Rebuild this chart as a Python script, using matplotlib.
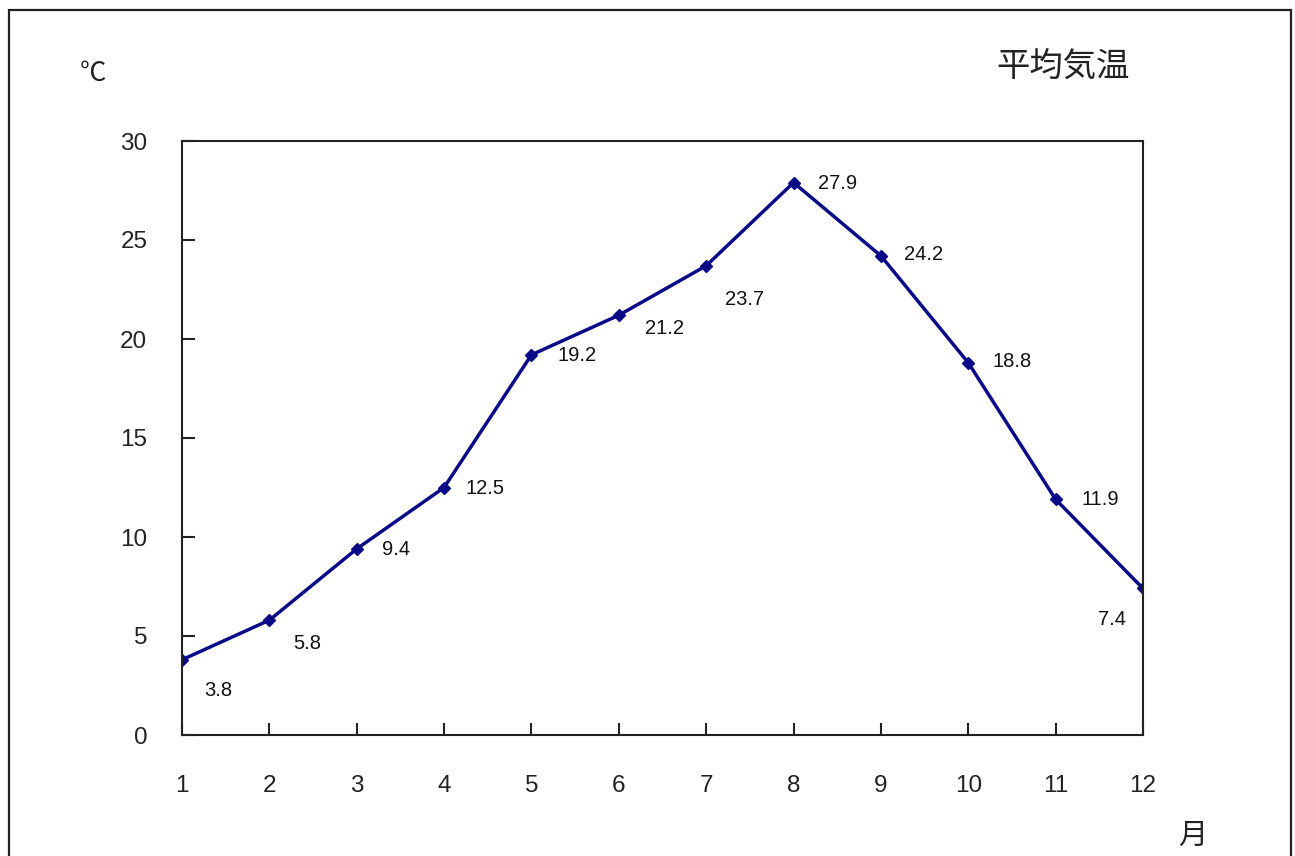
import matplotlib
matplotlib.use("Agg")
import matplotlib.pyplot as plt
from matplotlib.patches import Rectangle

months = [1, 2, 3, 4, 5, 6, 7, 8, 9, 10, 11, 12]
temps = [3.8, 5.8, 9.4, 12.5, 19.2, 21.2, 23.7, 27.9, 24.2, 18.8, 11.9, 7.4]
y_ticks = [0, 5, 10, 15, 20, 25, 30]

# label offsets in pixels (dx, dy), picked by eye from the original
label_offsets = [(36, -31), (38, -23), (39, -1), (41, -1), (46, -1), (46, -13),
                 (38, -34), (44, -1), (43, 1), (44, 1), (45, 0), (-31, -31)]

JP = ["Noto Sans CJK JP", "DejaVu Sans"]
NUM = ["Liberation Sans", "DejaVu Sans"]
NARROW = ["Liberation Sans Narrow", "Liberation Sans", "DejaVu Sans"]

fig = plt.figure(figsize=(12.95, 8.56), dpi=100)
ax = fig.add_axes([182 / 1295, 121 / 856, 961 / 1295, 594 / 856])

# outer frame of the chart object (bottom edge is cut off in the original)
fig.patches.append(Rectangle((9 / 1295, -0.05), 1282 / 1295, (846 / 856) + 0.05,
                             transform=fig.transFigure, fill=False,
                             edgecolor="#222222", linewidth=1.6))

ax.plot(months, temps, color="#0a0a86", linewidth=2.5, marker="D",
        markersize=6.5, markerfacecolor="#0a0a86", markeredgecolor="#0a0a86")

for m, t, (dx, dy) in zip(months, temps, label_offsets):
    ax.annotate(f"{t}", (m, t), xytext=(dx, dy), textcoords="offset pixels",
                ha="center", va="center", fontsize=14.5, family=NARROW,
                color="#111111")

ax.set_xlim(1, 12)
ax.set_ylim(0, 30)
ax.set_xticks(months)
ax.set_yticks(y_ticks)
for lab in ax.get_xticklabels() + ax.get_yticklabels():
    lab.set_family(NUM)
    lab.set_fontsize(17.5)
    lab.set_color("#222222")

for s in ["left", "bottom", "right", "top"]:
    ax.spines[s].set_linewidth(1.5)
    ax.spines[s].set_color("#222222")

ax.tick_params(axis="x", direction="in", length=9, width=1.5, pad=29, color="#222222")
ax.tick_params(axis="y", direction="in", length=9, width=1.5, pad=25, color="#222222")

fig.text(1063 / 1295, 1 - 66 / 856, "平均気温", family=JP, fontsize=24,
         ha="center", va="center", color="#222222")
fig.text(93 / 1295, 1 - 73 / 856, "℃", family=JP, fontsize=19,
         ha="center", va="center", color="#222222")
fig.text(1193 / 1295, 1 - 836 / 856, "月", family=JP, fontsize=21,
         ha="center", va="center", color="#222222")

fig.savefig("out.png", dpi=100, facecolor="white")
